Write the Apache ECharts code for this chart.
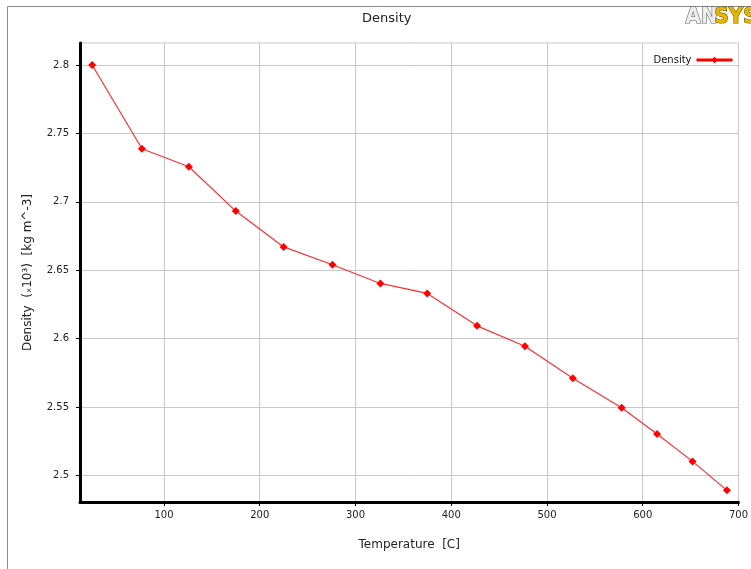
<!DOCTYPE html>
<html>
<head>
<meta charset="utf-8">
<script src="https://cdn.jsdelivr.net/npm/echarts@6/dist/echarts.min.js"></script>
<style>
html,body{margin:0;padding:0;background:#fff;}
#c{width:751px;height:569px;}
</style>
</head>
<body>
<div id="c"></div>
<script>
const temperatures = [25, 77, 126, 175, 225, 276, 326, 375, 427, 477, 527, 578, 615, 652, 688];
const densityValues = [2.800, 2.7388, 2.7256, 2.6932, 2.6670, 2.6540, 2.6403, 2.6330, 2.6093, 2.5944, 2.5709, 2.5494, 2.5302, 2.5102, 2.4890];
const xTicks = [100, 200, 300, 400, 500, 600, 700];
const yTicks = [2.5, 2.55, 2.6, 2.65, 2.7, 2.75, 2.8];

const FONT = 'DejaVu Sans';
const chart = echarts.init(document.getElementById('c'), null, {renderer: 'canvas'});
chart.setOption({
  animation: false,
  backgroundColor: '#fff',
  textStyle: {fontFamily: FONT},
  title: {
    text: 'Density', left: 357, top: 7,
    textStyle: {fontFamily: FONT, fontSize: 13, fontWeight: 'normal', color: '#222'}
  },
  legend: {
    data: ['Density'], right: 12, top: 50, align: 'right',
    itemWidth: 36, itemHeight: 8, itemGap: 7,
    textStyle: {fontFamily: FONT, fontSize: 10, color: '#111'},
    lineStyle: {width: 3, color: '#ff0000'},
    itemStyle: {color: '#ff0000'}
  },
  graphic: [
    {type: 'rect', shape: {x: 7.5, y: 6.5, width: 800, height: 600}, style: {fill: 'none', stroke: '#8a8a8a', lineWidth: 1}, z: -1},
    {type: 'text', left: 685, top: 6, style: {text: 'AN', font: 'bold 22px "DejaVu Sans Condensed", "DejaVu Sans"', fill: '#eeeeee', stroke: '#666', lineWidth: 1.2}},
    {type: 'text', left: 714, top: 6, style: {text: 'SYS', font: 'bold 22px "DejaVu Sans Condensed", "DejaVu Sans"', fill: '#e8b800', stroke: '#6b5a00', lineWidth: 1.2}}
  ],
  grid: {left: 80, right: 8, top: 43, bottom: 67, show: true, borderColor: '#c8c8c8', borderWidth: 1},
  xAxis: {
    type: 'value', min: 12.3, max: 700,
    name: 'Temperature  [C]', nameLocation: 'middle', nameGap: 37,
    nameTextStyle: {fontFamily: FONT, fontSize: 12, color: '#222'},
    axisLine: {show: true, onZero: false, lineStyle: {color: '#000', width: 3}},
    axisTick: {show: true, length: 4, lineStyle: {color: '#000'}, customValues: xTicks},
    axisLabel: {fontFamily: FONT, fontSize: 10, color: '#222', margin: 8, customValues: xTicks},
    splitLine: {show: true, lineStyle: {color: '#c8c8c8', width: 1}}
  },
  yAxis: {
    type: 'value', min: 2.4805, max: 2.8161,
    name: 'Density  (ₓ10³)  [kg m^-3]', nameLocation: 'middle', nameGap: 46,
    nameTextStyle: {fontFamily: FONT, fontSize: 12, color: '#222'},
    axisLine: {show: true, onZero: false, lineStyle: {color: '#000', width: 3}},
    axisTick: {show: true, length: 4, lineStyle: {color: '#000'}, customValues: yTicks},
    axisLabel: {fontFamily: FONT, fontSize: 10, color: '#222', margin: 11, customValues: yTicks,
      formatter: v => String(+v.toFixed(2))},
    splitLine: {show: true, lineStyle: {color: '#c8c8c8', width: 1}}
  },
  series: [{
    name: 'Density', type: 'line',
    data: temperatures.map((t, i) => [t, densityValues[i]]),
    symbol: 'diamond', symbolSize: 8,
    lineStyle: {color: '#ff3030', width: 1.2},
    itemStyle: {color: '#ff0000'}
  }]
});
</script>
</body>
</html>
